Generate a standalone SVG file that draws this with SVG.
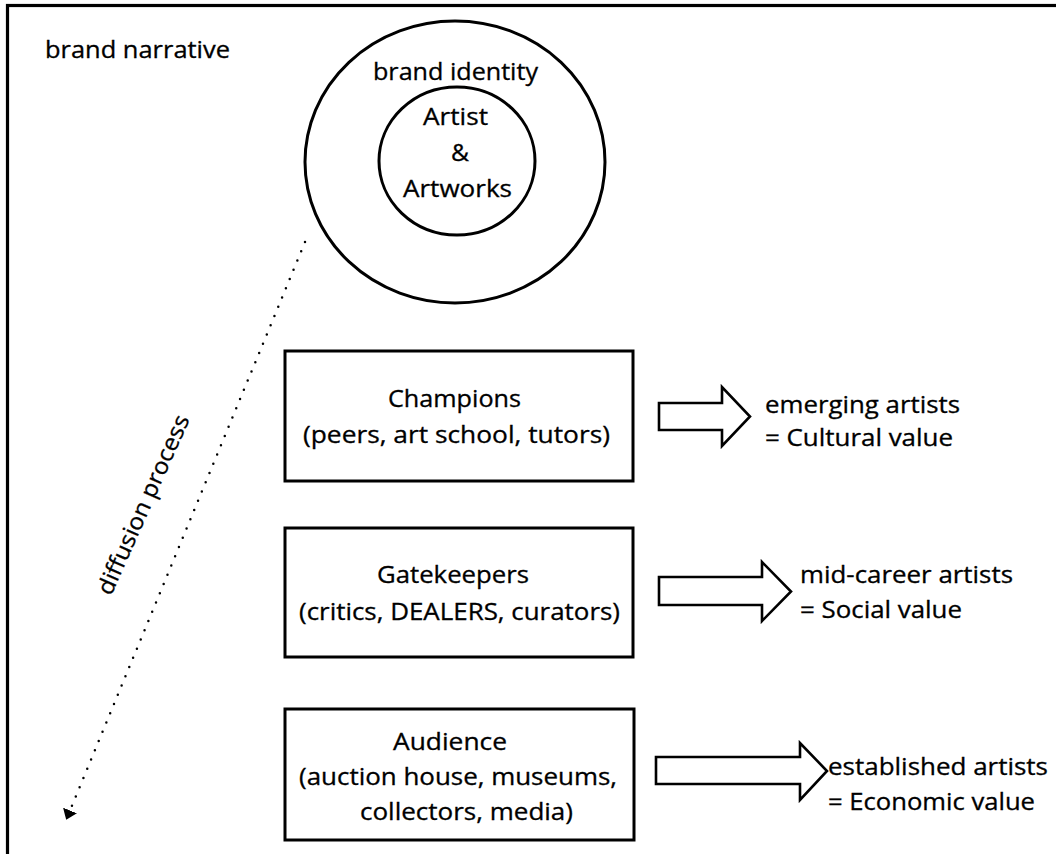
<svg xmlns="http://www.w3.org/2000/svg" width="1056" height="854" viewBox="0 0 1056 854">
  <defs>
    <style>
      .t { font-family: "Open Sans", Lato, "Liberation Sans", sans-serif; font-size: 23px; fill: #000; stroke: #000; stroke-width: 0.3; }
      .shape { fill: #fff; stroke: #000; stroke-width: 3; }
      .block { fill: #fff; stroke: #000; stroke-width: 2.6; stroke-linejoin: miter; }
      .dots { fill: none; stroke: #000; stroke-width: 2.5; stroke-linecap: round; stroke-dasharray: 0 10; }
    </style>
    <marker id="tri" markerUnits="userSpaceOnUse" markerWidth="10" markerHeight="15" viewBox="0 0 10 15" refX="0" refY="7.5" orient="auto">
      <path d="M0,0 L10,7.5 L0,15 z" fill="#000"/>
    </marker>
  </defs>
  <rect x="0" y="0" width="1056" height="854" fill="#fff"/>
  <g id="frame">
    <rect x="7.5" y="5.5" width="1100" height="900" fill="none" stroke="#000" stroke-width="3.2"/>
    <text class="t" x="45" y="58" textLength="185" lengthAdjust="spacingAndGlyphs">brand narrative</text>
  </g>
  <g id="brand-identity">
    <ellipse class="shape" cx="455" cy="162" rx="150" ry="141"/>
    <text class="t" x="373" y="80" textLength="165" lengthAdjust="spacingAndGlyphs">brand identity</text>
  </g>
  <g id="artist">
    <ellipse class="shape" cx="457" cy="161" rx="78" ry="74"/>
    <text class="t" x="423" y="125" textLength="65" lengthAdjust="spacingAndGlyphs">Artist</text>
    <text class="t" x="451" y="161" textLength="18" lengthAdjust="spacingAndGlyphs">&amp;</text>
    <text class="t" x="403" y="197" textLength="109" lengthAdjust="spacingAndGlyphs">Artworks</text>
  </g>
  <g id="champions">
    <rect class="shape" x="285" y="351" width="348" height="130"/>
    <text class="t" x="388" y="407" textLength="133" lengthAdjust="spacingAndGlyphs">Champions</text>
    <text class="t" x="303" y="443" textLength="307" lengthAdjust="spacingAndGlyphs">(peers, art school, tutors)</text>
  </g>
  <g id="gatekeepers">
    <rect class="shape" x="285" y="528" width="348" height="129"/>
    <text class="t" x="377" y="583" textLength="152" lengthAdjust="spacingAndGlyphs">Gatekeepers</text>
    <text class="t" x="299" y="620" textLength="321" lengthAdjust="spacingAndGlyphs">(critics, DEALERS, curators)</text>
  </g>
  <g id="audience">
    <rect class="shape" x="285" y="709" width="349" height="131"/>
    <text class="t" x="393" y="750" textLength="114" lengthAdjust="spacingAndGlyphs">Audience</text>
    <text class="t" x="299" y="785" textLength="318" lengthAdjust="spacingAndGlyphs">(auction house, museums,</text>
    <text class="t" x="360" y="820" textLength="213" lengthAdjust="spacingAndGlyphs">collectors, media)</text>
  </g>
  <g id="emerging">
    <text class="t" x="765" y="413" textLength="195" lengthAdjust="spacingAndGlyphs">emerging artists</text>
    <text class="t" x="765" y="446" textLength="188" lengthAdjust="spacingAndGlyphs">= Cultural value</text>
  </g>
  <g id="mid-career">
    <text class="t" x="800" y="583" textLength="213" lengthAdjust="spacingAndGlyphs">mid-career artists</text>
    <text class="t" x="800" y="618" textLength="162" lengthAdjust="spacingAndGlyphs">= Social value</text>
  </g>
  <g id="established">
    <text class="t" x="828" y="775" textLength="220" lengthAdjust="spacingAndGlyphs">established artists</text>
    <text class="t" x="828" y="810" textLength="207" lengthAdjust="spacingAndGlyphs">= Economic value</text>
  </g>
  <g id="connectors">
    <polygon class="block" points="659,403 722,403 722,387 750,416.5 722,446 722,430 659,430"/>
    <polygon class="block" points="659,577 762,577 762,562 791,591.5 762,621 762,605 659,605"/>
    <polygon class="block" points="656,757 800,757 800,743 827,771 800,800 800,784 656,784"/>
    <line class="dots" x1="305" y1="242" x2="70" y2="810.5" marker-end="url(#tri)"/>
    <text class="t" transform="translate(144,505) rotate(-66)" x="-97" y="7" textLength="194" lengthAdjust="spacingAndGlyphs">diffusion process</text>
  </g>
</svg>
